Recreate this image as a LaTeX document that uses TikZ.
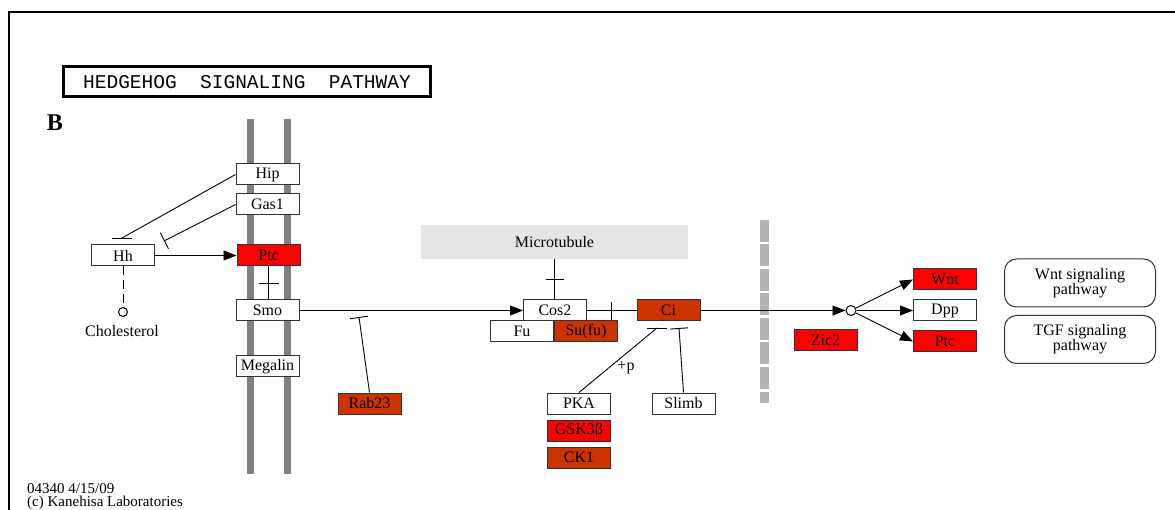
\documentclass[tikz,border=0pt]{standalone}
\usepackage{fontspec}
\setmainfont{Liberation Serif}
\newfontfamily\titlefont{Liberation Mono}
\usetikzlibrary{arrows.meta,positioning,calc}
\definecolor{keggred}{HTML}{FF0000}
\definecolor{keggrust}{HTML}{CC3300}
\definecolor{membgray}{HTML}{808080}
\definecolor{nucgray}{HTML}{B4B4B4}

\begin{document}
\begin{tikzpicture}[x=1pt,y=-1pt,
    gene/.style={rectangle, draw=black!80, line width=1pt, fill=white, minimum width=63pt, minimum height=21pt, inner sep=0pt, font=\fontsize{16}{16}\selectfont},
    hitred/.style={gene, fill=keggred},
    hitrust/.style={gene, fill=keggrust},
    mapbox/.style={rectangle, rounded corners=12pt, draw=black!80, line width=1pt, minimum width=151pt, minimum height=48pt, align=center, font=\fontsize{16}{15}\selectfont},
    act/.style={-{Triangle[length=13pt,width=10pt]}, line width=0.9pt},
    inh/.style={-{Bar[width=18pt]}, line width=0.9pt},
    link/.style={line width=0.9pt},
    memb/.style={membgray, line width=7pt},
    lbl/.style={font=\fontsize{16}{16}\selectfont, inner sep=0pt}
  ]
    \useasboundingbox (0,0) rectangle (1175,510);
    \draw[line width=1.5pt] (1175,12) -- (9,12) -- (9,510);

    \node[draw, line width=3pt, minimum width=367pt, minimum height=30pt, font=\titlefont\fontsize{19.5}{19.5}\selectfont] (title) at (247,82) {HEDGEHOG\ \ SIGNALING\ \ PATHWAY};
    \node[font=\bfseries\fontsize{24}{24}\selectfont, inner sep=0pt] (panel) at (55,123) {B};

    % membrane and nuclear envelope
    \draw[memb] (250,119) -- (250,474);
    \draw[memb] (287,119) -- (287,474);
    \draw[nucgray, line width=9pt, dash pattern=on 22pt off 2.5pt] (764.5,220) -- (764.5,403);

    \node[gene] (hip) at (267.5,174.5) {Hip};
    \node[gene] (gas) at (267.5,204.5) {Gas1};
    \node[hitred] (ptc) at (268.5,255.5) {Ptc};
    \node[gene] (smo) at (267.5,310.5) {Smo};
    \node[gene] (megalin) at (267.5,366.5) {Megalin};
    \node[gene] (hh) at (123,255.5) {Hh};
    \node[circle, draw, line width=1pt, minimum size=9pt, inner sep=0pt] (chol) at (123,312) {};
    \node[lbl] (chollbl) at (122,331) {Cholesterol};
    \node[hitrust] (rab) at (369.5,403.5) {Rab23};

    \node[fill=black!10, minimum width=267pt, minimum height=34pt, inner sep=0pt, font=\fontsize{16}{16}\selectfont] (micro) at (554.5,242) {Microtubule};
    \node[gene] (cos) at (555,310.5) {Cos2};
    \node[hitrust] (sufu) at (586,331.5) {Su(fu)};
    \node[gene, left=0pt of sufu] (fu) {Fu};
    \node[hitrust] (ci) at (668.5,310.5) {Ci};

    \node[gene] (pka) at (579,403.5) {PKA};
    \node[hitred, below=5pt of pka] (gsk) {GSK3β};
    \node[hitrust, below=5pt of gsk] (ck) {CK1};
    \node[gene] (slimb) at (683.5,403.5) {Slimb};
    \node[lbl] (phos) at (626,368) {+p};

    \node[circle, draw, line width=1pt, minimum size=10pt, inner sep=0pt] (junc) at (851,310.5) {};
    \node[hitred] (wnt) at (945,279.5) {Wnt};
    \node[gene] (dpp) at (945,310.5) {Dpp};
    \node[hitred] (ptcb) at (945,341.5) {Ptc};
    \node[hitred] (zic) at (825.5,340.5) {Zic2};
    \node[mapbox] (wntmap) at (1080,283) {Wnt signaling\\pathway};
    \node[mapbox] (tgfmap) at (1080,339.5) {TGF signaling\\pathway};

    \draw[act] (hh) -- (ptc);
    \coordinate (hipend) at (122,238);
    \draw[link] (hip.west) -- (hipend);
    \draw[link] ([xshift=-10pt]hipend) -- ([xshift=10pt]hipend);
    \coordinate (gasend) at (164,241);
    \draw[inh] (gas.west) -- (gasend);
    \draw[link, dash pattern=on 9pt off 5pt] (hh) -- (chol);

    \draw[link] (ptc.south) -- coordinate[midway] (ptctick) (ptc.south |- smo.north);
    \draw[link] ([xshift=-10pt]ptctick) -- ([xshift=10pt]ptctick);
    \draw[act] (smo) -- (cos);
    \coordinate (rabend) at (359,317);
    \draw[inh] (rab.north) -- (rabend);

    \draw[link] (micro.south) -- coordinate[midway] (mttick) (micro.south |- cos.north);
    \draw[link] ([xshift=-9pt]mttick) -- ([xshift=9pt]mttick);
    \draw[link] (cos) -- (ci);
    \coordinate (cistick) at ($(cos.east)!0.5!(ci.west)$);
    \draw[link] ([yshift=8pt]cistick) -- ([yshift=-10pt]cistick);

    \coordinate (pkaend) at (657,328);
    \draw[link] (pka.north) -- (pkaend);
    \draw[link] ([xshift=-10pt]pkaend) -- ([xshift=10pt]pkaend);
    \coordinate (slimbend) at (679,328);
    \draw[inh] (slimb.north) -- (slimbend);

    \draw[act] (ci) -- (junc);
    \draw[act] (junc) -- (wnt.west);
    \draw[act] (junc) -- (dpp.west);
    \draw[act] (junc) -- (ptcb.west);

    \node[anchor=north west, align=left, inner sep=0pt, font=\fontsize{15}{13}\selectfont] (stamp) at (27,483) {04340 4/15/09\\(c) Kanehisa Laboratories};
  \end{tikzpicture}
\end{document}
